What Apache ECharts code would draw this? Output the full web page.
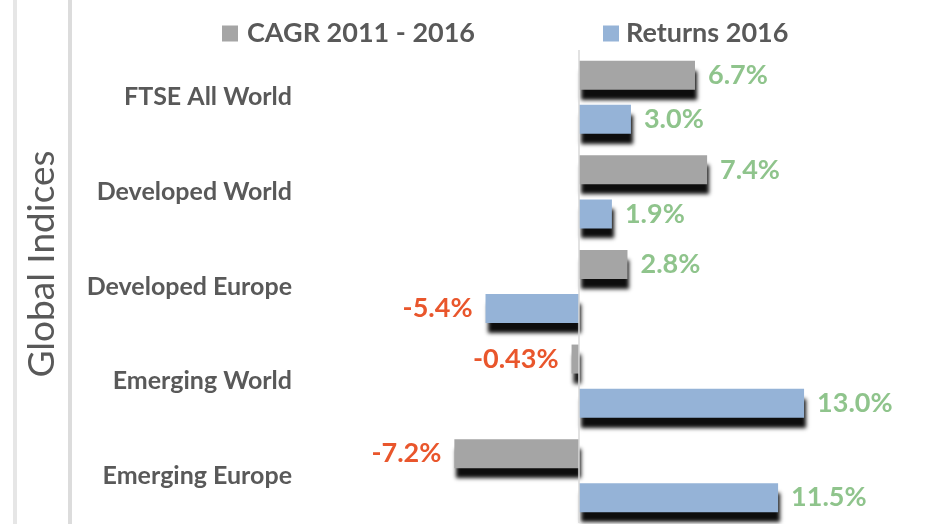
<!DOCTYPE html>
<html>
<head>
<meta charset="utf-8">
<script src="https://cdn.jsdelivr.net/npm/echarts@6/dist/echarts.min.js"></script>
<style>
html,body{margin:0;padding:0;background:#fff;}
#chart{width:931px;height:524px;}
</style>
</head>
<body>
<div id="chart"></div>
<script>
const categories = ['FTSE All World', 'Developed World', 'Developed Europe', 'Emerging World', 'Emerging Europe'];
const cagrName = 'CAGR 2011 - 2016';
const returnsName = 'Returns 2016';
const cagrValues = [6.7, 7.4, 2.8, -0.43, -7.2];
const returnsValues = [3.0, 1.9, -5.4, 13.0, 11.5];
const axisTitle = 'Global Indices';

const FONT = 'Lato, "Open Sans", sans-serif';
const POS = '#8FC48C';
const NEG = '#E9562C';

function fmt(v) {
  return (Math.abs(v) < 1 ? v.toFixed(2) : v.toFixed(1)) + '%';
}
function mkData(values) {
  return values.map(v => ({
    value: v,
    label: {
      position: v < 0 ? 'left' : 'right',
      color: v < 0 ? NEG : POS
    }
  }));
}
const shadow = {
  shadowColor: 'rgba(0,0,0,0.95)',
  shadowBlur: 4,
  shadowOffsetX: 2,
  shadowOffsetY: 10
};
const labelBase = {
  show: true,
  distance: 13,
  fontFamily: FONT,
  fontWeight: 'bold',
  fontSize: 27,
  formatter: p => fmt(p.value)
};

const chart = echarts.init(document.getElementById('chart'));
chart.setOption({
  backgroundColor: '#ffffff',
  animation: false,
  graphic: [
    { type: 'rect', shape: { x: 13, y: 0, width: 4, height: 524 }, style: { fill: '#E6E6E6' }, silent: true },
    { type: 'rect', shape: { x: 68, y: 0, width: 4, height: 524 }, style: { fill: '#DCDCDC' }, silent: true },
    {
      type: 'text', x: 42, y: 264, rotation: Math.PI / 2, silent: true,
      style: { text: axisTitle, fontFamily: FONT, fontSize: 37, fill: '#595959', align: 'center', verticalAlign: 'middle' }
    }
  ],
  legend: [
    {
      data: [cagrName], left: 222, top: 20, padding: 0, itemWidth: 16, itemHeight: 16,
      textStyle: { fontFamily: FONT, fontWeight: 'bold', fontSize: 27, color: '#595959', padding: [0, 0, 0, 4] },
      icon: 'rect', selectedMode: false
    },
    {
      data: [returnsName], left: 603, top: 20, padding: 0, itemWidth: 16, itemHeight: 16,
      textStyle: { fontFamily: FONT, fontWeight: 'bold', fontSize: 27, color: '#595959', padding: [0, 0, 0, 2] },
      icon: 'rect', selectedMode: false
    }
  ],
  grid: { left: 302, right: 75, top: 50, bottom: 1, containLabel: false },
  xAxis: {
    type: 'value', min: -16, max: 16,
    axisLine: { show: false }, axisTick: { show: false },
    axisLabel: { show: false }, splitLine: { show: false }
  },
  yAxis: {
    type: 'category', data: categories, inverse: true,
    axisLine: { show: false }, axisTick: { show: false },
    axisLabel: { margin: 10, fontFamily: FONT, fontWeight: 'bold', fontSize: 25, color: '#595959' }
  },
  series: [
    {
      name: cagrName, type: 'bar', data: mkData(cagrValues),
      barWidth: 29, barGap: '52%',
      itemStyle: Object.assign({ color: '#A5A5A5' }, shadow),
      label: labelBase,
      markLine: {
        silent: true, symbol: 'none', label: { show: false },
        lineStyle: { color: '#D9D9D9', width: 1.5, type: 'solid' },
        data: [{ xAxis: 0 }]
      }
    },
    {
      name: returnsName, type: 'bar', data: mkData(returnsValues),
      barWidth: 29,
      itemStyle: Object.assign({ color: '#95B3D7' }, shadow),
      label: labelBase
    }
  ]
});
</script>
</body>
</html>
